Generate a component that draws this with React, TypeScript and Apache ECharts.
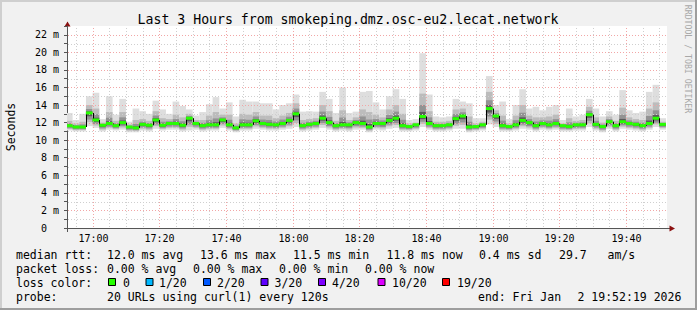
import React, { useEffect, useRef } from 'react';
import * as echarts from 'echarts';

// time (seconds since midnight)
const STEP = 120;
const FIRST_BAR = 16 * 3600 + 52 * 60; // 16:52:00
const X_MIN = 16 * 3600 + 52 * 60 + 19; // 16:52:19
const X_MAX = X_MIN + 3 * 3600; // 19:52:19
const Y_MAX = 23;

const median = [
  11.65, 11.5, 11.5, 13.1, 12.3, 11.7, 11.9, 11.65, 12.0, 11.5, 11.4, 11.8, 11.7, 12.3, 11.7,
  11.9, 11.9, 11.7, 12.5, 11.9, 11.65, 11.75, 11.75, 12.3, 11.75, 11.4, 11.75, 11.75, 12.2, 11.9,
  11.8, 11.75, 11.9, 12.25, 13.0, 11.65, 11.8, 11.9, 12.5, 12.0, 11.65, 11.75, 11.75, 12.0, 11.9,
  11.5, 11.9, 11.9, 12.25, 12.5, 11.65, 11.55, 11.75, 12.7, 11.9, 11.65, 11.65, 11.75, 12.45, 12.75,
  11.5, 11.55, 11.75, 13.6, 12.75, 11.65, 11.55, 11.75, 12.25, 12.0, 11.65, 11.9, 11.75, 11.9, 11.65,
  11.55, 11.75, 11.75, 12.9, 11.8, 11.55, 12.1, 11.65, 12.1, 11.9, 11.8, 11.65, 11.9, 12.5, 11.8,
];
const low = [
  11.1, 11.0, 11.0, 11.6, 11.4, 11.0, 11.2, 11.1, 11.2, 10.9, 10.9, 11.1, 11.0, 11.3, 11.1,
  11.2, 11.2, 11.0, 11.1, 11.2, 11.0, 11.1, 11.1, 11.4, 11.1, 10.9, 11.1, 11.1, 11.3, 11.2,
  11.1, 11.1, 11.2, 11.3, 11.5, 11.0, 11.1, 11.2, 11.4, 11.2, 11.0, 11.1, 11.0, 11.2, 11.2,
  10.9, 11.2, 11.1, 11.3, 11.4, 11.0, 11.0, 11.1, 11.5, 11.2, 11.0, 11.0, 11.1, 11.3, 11.3,
  10.9, 11.0, 11.1, 11.8, 11.5, 11.0, 11.0, 11.1, 11.3, 11.2, 11.0, 11.2, 11.1, 11.2, 11.0,
  11.0, 11.1, 11.1, 11.5, 11.1, 10.9, 11.3, 11.0, 11.3, 11.2, 11.1, 11.0, 11.2, 11.5, 11.2,
];
const upper = [
  12.2, 11.9, 12.1, 14.0, 13.6, 12.0, 13.2, 12.2, 13.2, 11.8, 12.3, 12.4, 12.2, 13.3, 12.5,
  12.4, 12.9, 12.6, 13.0, 12.3, 12.3, 12.8, 13.2, 12.9, 12.9, 11.9, 13.0, 12.9, 13.2, 12.8,
  12.8, 12.5, 12.8, 13.1, 14.2, 12.3, 12.4, 12.5, 14.0, 13.3, 12.2, 13.4, 12.3, 12.6, 13.5,
  13.2, 12.9, 12.6, 13.5, 14.0, 13.0, 11.9, 12.0, 15.3, 13.3, 12.1, 12.1, 12.2, 13.5, 13.6,
  12.7, 11.9, 12.1, 15.5, 13.4, 12.8, 11.9, 12.8, 14.0, 12.8, 12.6, 12.6, 12.7, 12.9, 11.9,
  12.5, 12.2, 12.3, 13.8, 12.6, 12.0, 12.7, 12.2, 13.7, 12.6, 12.4, 12.3, 13.6, 14.3, 12.1,
];
const high = [
  13.1, 12.3, 13.0, 15.0, 15.4, 12.4, 15.0, 12.9, 14.7, 12.1, 13.6, 13.3, 13.0, 14.5, 13.5,
  13.0, 14.4, 13.9, 13.5, 12.8, 13.2, 14.1, 14.9, 13.6, 14.3, 12.7, 14.6, 14.4, 14.4, 14.2,
  14.2, 13.5, 14.0, 14.2, 15.2, 13.25, 13.3, 13.25, 15.5, 14.7, 13.1, 16.0, 13.1, 13.25, 15.5,
  15.6, 14.3, 13.5, 15.0, 15.8, 14.7, 12.3, 12.4, 19.9, 15.2, 12.7, 12.6, 12.7, 14.7, 14.4,
  14.2, 12.5, 12.5, 17.3, 14.0, 14.4, 12.4, 14.0, 15.8, 13.6, 13.8, 13.4, 13.8, 14.0, 12.3,
  13.6, 12.7, 12.9, 14.7, 13.6, 12.7, 13.3, 12.9, 15.7, 13.4, 13.1, 13.25, 15.5, 16.3, 12.5,
];

const timeLabels = ['17:00', '17:20', '17:40', '18:00', '18:20', '18:40', '19:00', '19:20', '19:40'];
const lossLabels = ['0', '1/20', '2/20', '3/20', '4/20', '10/20', '19/20'];
const lossColors = ['#26ff00', '#00b8ff', '#0059ff', '#5e00ff', '#7e00ff', '#dd00ff', '#ff0000'];

const statLine1 = ['12.0 ms avg', '13.6 ms max', '11.5 ms min', '11.8 ms now', '0.4 ms sd', '29.7'];
const statLine2 = ['0.00 % avg', '0.00 % max', '0.00 % min', '0.00 % now'];

const MONO = '"DejaVu Sans Mono", monospace';
const F_LEG = `11.5px ${MONO}`;
const MAJOR_GRID = '#f2a6a6';
const MINOR_GRID = '#cfcfcf';

export default function App() {
  const ref = useRef<HTMLDivElement>(null);
  useEffect(() => {
    if (!ref.current) return;
    const chart = echarts.init(ref.current, undefined, { renderer: 'svg' });

    const smokeData = median.map((m, i) => [
      FIRST_BAR + i * STEP,
      FIRST_BAR + (i + 1) * STEP,
      low[i],
      upper[i],
      high[i],
      m,
      i > 0 ? median[i - 1] : m,
    ]);
    const hGridData: number[][] = [];
    for (let v = 1; v < Y_MAX; v++) hGridData.push([X_MIN, v]);
    const vGridData: number[][] = [];
    for (let t = 16 * 3600 + 55 * 60; t < X_MAX; t += 300) vGridData.push([t, 0]);

    const leg = (text: string, x: number, y: number, fill = '#000') => ({
      type: 'text',
      x,
      y,
      silent: true,
      style: { text, font: F_LEG, fill, verticalAlign: 'middle', textVerticalAlign: 'middle' },
    });

    const graphics: any[] = [
      // 3D border
      { type: 'rect', shape: { x: 0, y: 0, width: 697, height: 2 }, style: { fill: '#cfcfcf' } },
      { type: 'rect', shape: { x: 0, y: 0, width: 2, height: 310 }, style: { fill: '#cfcfcf' } },
      { type: 'rect', shape: { x: 0, y: 308, width: 697, height: 2 }, style: { fill: '#9e9e9e' } },
      { type: 'rect', shape: { x: 695, y: 0, width: 2, height: 310 }, style: { fill: '#9e9e9e' } },
      // title
      {
        type: 'text', x: 348, y: 19,
        style: { text: 'Last 3 Hours from smokeping.dmz.osc-eu2.lecat.network', font: `13.2px ${MONO}`, fill: '#000', align: 'center', textAlign: 'center', verticalAlign: 'middle', textVerticalAlign: 'middle' },
      },
      {
        type: 'text', x: 11, y: 127, rotation: Math.PI / 2,
        style: { text: 'Seconds', font: F_LEG, fill: '#000', align: 'center', textAlign: 'center', verticalAlign: 'middle', textVerticalAlign: 'middle' },
      },
      {
        type: 'text', x: 688, y: 59, rotation: -Math.PI / 2,
        style: { text: 'RRDTOOL / TOBI OETIKER', font: `8.2px ${MONO}`, fill: '#a8a8a8', align: 'center', textAlign: 'center', verticalAlign: 'middle', textVerticalAlign: 'middle' },
      },
      // axis arrows
      { type: 'line', shape: { x1: 67.5, y1: 22, x2: 67.5, y2: 26 }, style: { stroke: '#555', lineWidth: 1 } },
      { type: 'line', shape: { x1: 67.5, y1: 228, x2: 67.5, y2: 232 }, style: { stroke: '#555', lineWidth: 1 } },
      { type: 'line', shape: { x1: 667, y1: 228.5, x2: 670, y2: 228.5 }, style: { stroke: '#555', lineWidth: 1 } },
      { type: 'polygon', shape: { points: [[67.5, 21.5], [64.5, 26.5], [70.5, 26.5]] }, style: { fill: '#8b1010' } },
      { type: 'polygon', shape: { points: [[675, 228.5], [669.5, 225.5], [669.5, 231.5]] }, style: { fill: '#8b1010' } },
      // legend lines
      leg('median rtt:', 16, 254.5),
      ...statLine1.map((s, i) => leg(s, [107, 200, 293, 386.5, 479, 559][i], 254.5)),
      leg('am/s', 607.5, 254.5),
      leg('packet loss:', 16, 268.5),
      ...statLine2.map((s, i) => leg(s, [107, 193, 279, 365][i], 268.5)),
      leg('loss color:', 16, 282.5),
      ...lossColors.map((c, i) => ({
        type: 'rect',
        shape: { x: [108.5, 146, 203.5, 261, 318.5, 378, 442.5][i], y: 278.5, width: 7, height: 7 },
        style: { fill: c, stroke: '#000', lineWidth: 1 },
      })),
      ...lossLabels.map((s, i) => leg(s, [123, 159, 217, 274.5, 332, 392, 457][i], 282.5)),
      leg('probe:', 16, 296.5),
      leg('20 URLs using curl(1) every 120s', 107, 296.5),
      leg('end: Fri Jan', 478, 296.5),
      leg('2 19:52:19 2026', 577.5, 296.5),
    ];

    const option: any = {
      animation: false,
      backgroundColor: '#f1f1f1',
      grid: { left: 67, top: 26, width: 600, height: 202, show: true, backgroundColor: '#ffffff', borderWidth: 0 },
      xAxis: {
        type: 'value', min: X_MIN, max: X_MAX,
        axisLine: { show: true, onZero: false, lineStyle: { color: '#555', width: 1 } },
        axisTick: { show: false }, axisLabel: { show: false }, splitLine: { show: false },
      },
      yAxis: {
        type: 'value', min: 0, max: Y_MAX, interval: 1,
        axisLine: { show: true, lineStyle: { color: '#555', width: 1 } },
        axisTick: { show: true, length: 3, lineStyle: { color: '#555' } },
        splitLine: { show: false },
        axisLabel: {
          margin: 8,
          fontFamily: MONO, fontSize: 10, color: '#000',
          formatter: (v: number) => (v % 2 !== 0 ? '' : v === 0 ? '{z|0}' : `${v} m`),
          rich: { z: { padding: [0, 12, 0, 0], fontFamily: MONO, fontSize: 10, color: '#000' } },
        },
      },
      graphic: { elements: graphics },
      series: [
        {
          type: 'custom', name: 'smoke', clip: true, silent: true,
          data: smokeData,
          renderItem: (params: any, api: any) => {
            const t0 = api.value(0), t1 = api.value(1);
            const lo = api.value(2), up = api.value(3), hi = api.value(4), md = api.value(5);
            const x0 = api.coord([t0, 0])[0];
            const x1 = api.coord([t1, 0])[0];
            const Y = (v: number) => api.coord([t0, v])[1];
            const w = x1 - x0;
            const band = (a: number, b: number, fill: string) => ({
              type: 'rect',
              shape: { x: x0, y: Y(b), width: w, height: Y(a) - Y(b) },
              style: { fill },
            });
            return {
              type: 'group',
              children: [
                band(lo, hi, '#dedede'),
                band(lo + (md - lo) * 0.3, up, '#bcbcbc'),
                band(md - (md - lo) * 0.5, md + (up - md) * 0.5, '#939393'),
                band(md - (md - lo) * 0.25, md + (up - md) * 0.2, '#5a5a5a'),
              ],
            };
          },
        },
        {
          type: 'custom', name: 'hgrid', silent: true, clip: false,
          data: hGridData,
          renderItem: (params: any, api: any) => {
            const v = api.value(1);
            const p0 = api.coord([X_MIN, v]);
            const p1 = api.coord([X_MAX, v]);
            const y = Math.round(p0[1]) + 0.5;
            const major = v % 2 === 0;
            return {
              type: 'line',
              shape: { x1: p0[0] + 1, y1: y, x2: p1[0], y2: y },
              style: { stroke: major ? MAJOR_GRID : MINOR_GRID, lineWidth: 1, lineDash: [1, 2] },
            };
          },
        },
        {
          type: 'custom', name: 'vgrid', silent: true, clip: false,
          data: vGridData,
          renderItem: (params: any, api: any) => {
            const t = api.value(0);
            const p0 = api.coord([t, 0]);
            const p1 = api.coord([t, Y_MAX]);
            const x = Math.round(p0[0]) + 0.5;
            const major = t % 1200 === 0;
            const children: any[] = [
              {
                type: 'line',
                shape: { x1: x, y1: p0[1] - 1, x2: x, y2: p1[1] },
                style: { stroke: major ? MAJOR_GRID : MINOR_GRID, lineWidth: 1, lineDash: [1, 2] },
              },
            ];
            if (major) {
              const idx = Math.round((t - 17 * 3600) / 1200);
              children.push({
                type: 'text',
                style: {
                  text: timeLabels[idx] ?? '', x, y: p0[1] + 10,
                  font: `10px ${MONO}`, fill: '#000',
                  align: 'center', textAlign: 'center', verticalAlign: 'middle', textVerticalAlign: 'middle',
                },
              });
            }
            return { type: 'group', children };
          },
        },
        {
          type: 'custom', name: 'median', clip: true, silent: true,
          data: smokeData,
          renderItem: (params: any, api: any) => {
            const t0 = api.value(0), t1 = api.value(1);
            const md = api.value(5), pm = api.value(6);
            const x0 = api.coord([t0, 0])[0];
            const x1 = api.coord([t1, 0])[0];
            const Y = (v: number) => api.coord([t0, v])[1];
            const xs = Math.round(x0) + 0.5;
            return {
              type: 'group',
              children: [
                { type: 'line', shape: { x1: xs, y1: Y(pm), x2: xs, y2: Y(md) }, style: { stroke: '#000', lineWidth: 1 } },
                { type: 'rect', shape: { x: x0, y: Y(md) - 1.5, width: x1 - x0, height: 3 }, style: { fill: '#26ff00' } },
              ],
            };
          },
        },
      ],
    };
    chart.setOption(option);
    return () => chart.dispose();
  }, []);
  return <div ref={ref} style={{ position: 'absolute', left: 0, top: 0, width: 697, height: 310 }} />;
}
